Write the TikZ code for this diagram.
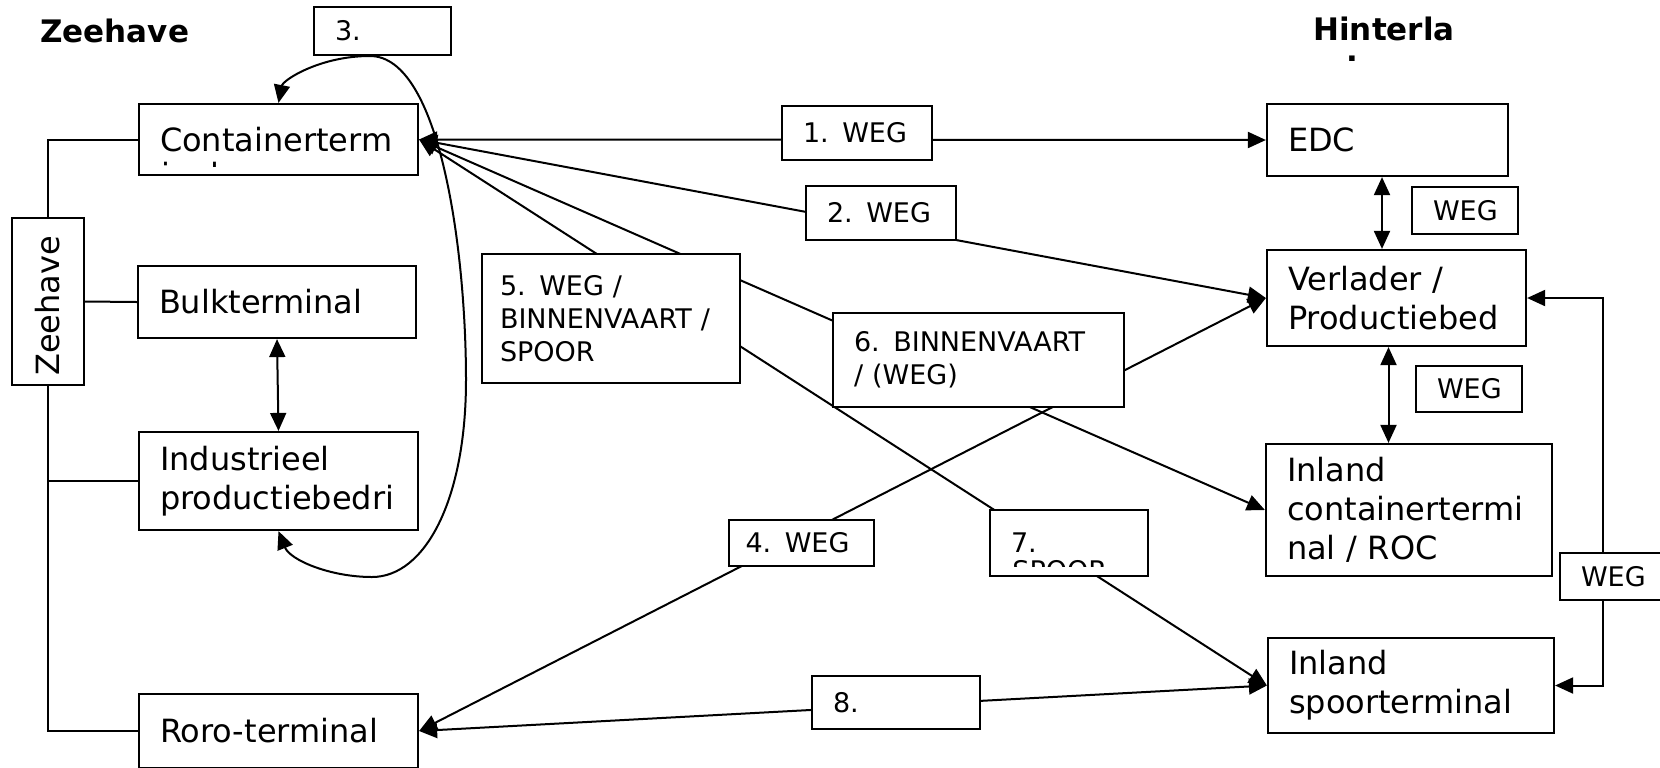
\documentclass[tikz,border=0pt]{standalone}
\usepackage{fontspec}
\setmainfont{DejaVu Sans}
\usetikzlibrary{arrows.meta}
\tikzset{
  term/.style={draw, fill=white, line width=1.1pt, inner xsep=10.5pt, inner ysep=0pt, align=left, font=\fontsize{16}{19.5}\selectfont},
  lbl/.style={term, font=\fontsize{13.5}{16.5}\selectfont},
  head/.style={font=\fontsize{15.5}{18}\selectfont\bfseries, inner sep=0pt, anchor=base west},
  rest/.style={inner sep=0pt, anchor=base west},
  wire/.style={line width=1pt},
  link/.style={wire, {Triangle[length=9pt,width=8pt]}-{Triangle[length=9pt,width=8pt]}},
}
\begin{document}
\begin{tikzpicture}[x=0.5pt,y=-0.5pt]
	\useasboundingbox (0,0) rectangle (1660,767);
	\node[head] (zhtitle) at (40,42) {Zeehave};
	\node[head] (hltitle) at (1313,40) {Hinterla};
	\begin{scope}
		\clip (1300,50) rectangle (1460,60);
		\node[head] (hlrest) at (1313,79) {nd};
	\end{scope}
	\node[term, inner xsep=0pt, minimum width=36pt, minimum height=83.5pt] (zh) at (48,301.5) {\rotatebox{90}{\raisebox{-2.5pt}{Zeehave\hspace{4.5pt}}}};
	\node[term, text width=118.5pt, minimum height=35.5pt] (ct) at (278.5,139.5) {Containerterm};
	\begin{scope}
		\clip (139,104) rectangle (418,166);
		\node[rest, font=\fontsize{16}{19.5}\selectfont] (ctrest) at (161,186) {inal};
	\end{scope}
	\node[term, text width=118pt, minimum height=36pt] (bulk) at (277,302) {Bulkterminal};
	\node[term, text width=118.5pt, minimum height=49pt] (ind) at (278.5,481) {Industrieel\\productiebedri};
	\node[term, text width=118.5pt, minimum height=37pt] (roro) at (278.5,731) {Roro-terminal};
	\node[term, text width=99.5pt, minimum height=36pt] (edc) at (1387.5,140) {EDC};
	\node[term, text width=108.5pt, minimum height=48pt] (verl) at (1396.5,298) {Verlader /\\Productiebed};
	\node[term, text width=122pt, minimum height=66pt] (icont) at (1409,510) {Inland\\containertermi\\nal / ROC};
	\node[term, text width=122pt, minimum height=47.5pt] (ispoor) at (1411,685.5) {Inland\\spoorterminal};

	\draw[wire] (zh.north) |- (ct.west);
	\draw[wire] (zh.east) -- (bulk.west);
	\draw[wire] (zh.south) |- (roro.west);
	\draw[wire] (zh.south |- ind.west) -- (ind.west);
	\draw[link] (bulk.south) -- (ind.north);
	\draw[link] (ct.north) .. controls (283,80) and (320,56) .. (370,56)
		.. controls (440,56) and (466,250) .. (466,380)
		.. controls (466,500) and (425,577) .. (372,577)
		.. controls (330,577) and (290,560) .. (ind.south);
	\draw[link] (ct.east) -- (edc.west);
	\draw[link] (ct.east) -- (verl.west);
	\draw[link] (ct.east) -- (icont.west);
	\draw[link] (ct.east) -- (ispoor.west);
	\draw[link] (roro.east) -- (verl.west);
	\draw[link] (roro.east) -- (ispoor.west);
	\draw[link] ([xshift=-2.75pt]edc.south) -- ([xshift=-2.75pt]edc.south |- verl.north);
	\draw[link] ([xshift=-4pt]verl.south) -- ([xshift=-4pt]verl.south |- icont.north);
	\draw[link] (verl.east) -- ++(38pt,0) |- (ispoor.east);

	\node[lbl, text width=47.5pt, minimum height=24pt] (l3) at (382.5,31) {3.};
	\node[lbl, text width=54pt, minimum height=27pt] (l1) at (857,133) {1. WEG};
	\node[lbl, text width=54pt, minimum height=27pt] (l2) at (881,213) {2. WEG};
	\node[lbl, text width=111pt, inner xsep=9pt, minimum height=64.5pt] (l5) at (611,318.5) {5. WEG /\\BINNENVAART /\\SPOOR};
	\node[lbl, text width=124.5pt, minimum height=47pt] (l6) at (978.5,360) {6. BINNENVAART\\/ (WEG)};
	\node[lbl, text width=56pt, inner xsep=8.25pt, minimum height=23pt] (l4) at (801.5,543) {4. WEG};
	\node[lbl, text width=58pt, minimum height=33pt] (l7) at (1069,543) {7.};
	\begin{scope}
		\clip (990,510) rectangle (1148,566);
		\node[rest, font=\fontsize{13.5}{16.5}\selectfont] (l7rest) at (1012,580) {SPOOR};
	\end{scope}
	\node[lbl, text width=63pt, minimum height=26.5pt] (l8) at (896,702.5) {8.};
	\node[lbl, text width=32pt, minimum height=23.5pt] (w1) at (1465,210.5) {WEG};
	\node[lbl, text width=32pt, minimum height=23pt] (w2) at (1469,389) {WEG};
	\node[lbl, text width=39pt, minimum height=23.5pt] (w3) at (1620,576.5) {WEG};
\end{tikzpicture}
\end{document}
